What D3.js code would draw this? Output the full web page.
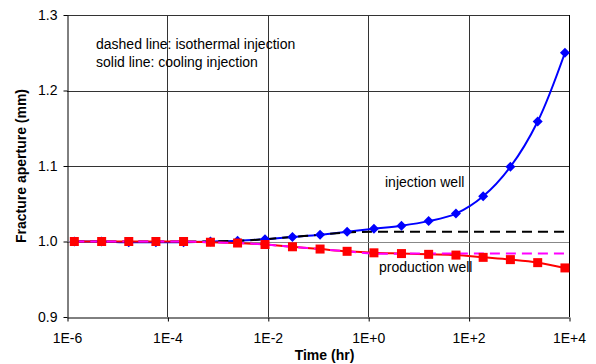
<!DOCTYPE html>
<html>
<head>
<meta charset="utf-8">
<script src="https://cdn.jsdelivr.net/npm/d3@7"></script>
<style>
  body { margin: 0; background: #fff; }
  svg text { font-family: Arial, "Liberation Sans", sans-serif; font-size: 14px; fill: #000; }
  .axis path, .axis line { stroke: #000; }
</style>
</head>
<body>
<figure id="chart" style="margin:0"></figure>
<script>
// time of each output step (hr)
const timeHr = [1.4e-6, 4.9e-6, 1.7e-5, 5.9e-5, 2.1e-4, 7.2e-4, 2.5e-3, 8.8e-3, 3.1e-2,
  0.11, 0.38, 1.3, 4.6, 16, 56, 195, 680, 2380, 8300];

// fracture aperture (mm)
const injCooling = [1.000, 1.000, 0.999, 0.999, 0.999, 1.000, 1.001, 1.003, 1.006,
  1.009, 1.013, 1.017, 1.021, 1.027, 1.037, 1.060, 1.099, 1.159, 1.250];
const prodCooling = [1.000, 1.000, 1.000, 1.000, 1.000, 0.999, 0.998, 0.996, 0.993,
  0.990, 0.987, 0.985, 0.984, 0.983, 0.982, 0.979, 0.976, 0.972, 0.965];
const injIsothermal = [1.000, 1.000, 1.000, 1.000, 1.000, 1.000, 1.001, 1.003, 1.006,
  1.009, 1.012, 1.013, 1.013, 1.013, 1.013, 1.013, 1.013, 1.013, 1.013];
const prodIsothermal = [1.000, 1.000, 1.000, 1.000, 1.000, 0.999, 0.998, 0.996, 0.993,
  0.990, 0.987, 0.984, 0.984, 0.984, 0.984, 0.984, 0.984, 0.984, 0.984];

const xTicks = [1e-6, 1e-4, 1e-2, 1e0, 1e2, 1e4];
const xTickLabels = ["1E-6", "1E-4", "1E-2", "1E+0", "1E+2", "1E+4"];
const yTicks = [0.9, 1.0, 1.1, 1.2, 1.3];

const width = 596, height = 364;
const margin = { top: 15, right: 27, bottom: 47, left: 67 };
const chartWidth = width - margin.left - margin.right;
const chartHeight = height - margin.top - margin.bottom;

const svg = d3.select("#chart")
  .append("svg")
  .attr("width", width)
  .attr("height", height);

const g = svg.append("g")
  .attr("transform", `translate(${margin.left},${margin.top})`);

// Create scales
const x = d3.scaleLog()
  .domain([1e-6, 1e4])
  .range([0, chartWidth]);

const y = d3.scaleLinear()
  .domain([0.9, 1.3])
  .range([chartHeight, 0]);

// grid lines
g.selectAll(".vgrid")
  .data(xTicks.slice(1, -1))
  .enter()
  .append("line")
  .attr("x1", d => Math.round(x(d)) + 0.5)
  .attr("x2", d => Math.round(x(d)) + 0.5)
  .attr("y1", 0)
  .attr("y2", chartHeight)
  .attr("stroke", "#333");

g.selectAll(".hgrid")
  .data(yTicks.slice(1))
  .enter()
  .append("line")
  .attr("x1", 0)
  .attr("x2", chartWidth)
  .attr("y1", d => Math.round(y(d)) + 0.5)
  .attr("y2", d => Math.round(y(d)) + 0.5)
  .attr("stroke", d => d === 1.0 ? "#888" : "#333");

// right border
g.append("line")
  .attr("x1", chartWidth + 0.5).attr("x2", chartWidth + 0.5)
  .attr("y1", 0).attr("y2", chartHeight)
  .attr("stroke", "#000");

// axes
const xAxis = g.append("g")
  .attr("class", "axis")
  .attr("transform", `translate(0,${chartHeight + 0.5})`)
  .call(d3.axisBottom(x)
    .tickValues(xTicks)
    .tickFormat((d, i) => xTickLabels[i])
    .tickSize(4)
    .tickSizeOuter(0)
    .tickPadding(12));
xAxis.selectAll("text").attr("font-size", 14).attr("font-family", null);

const yAxis = g.append("g")
  .attr("class", "axis")
  .attr("transform", "translate(0.5,0)")
  .call(d3.axisLeft(y)
    .tickValues(yTicks)
    .tickFormat(d3.format(".1f"))
    .tickSize(4)
    .tickSizeOuter(0)
    .tickPadding(6));
yAxis.selectAll("text").attr("font-size", 14).attr("font-family", null);
xAxis.selectAll("line").attr("transform", "translate(0.5,0)");

// lines
const line = d3.line()
  .x((d, i) => x(timeHr[i]))
  .y(d => y(d))
  .curve(d3.curveCatmullRom.alpha(0.5));

g.append("path")
  .datum(injCooling)
  .attr("d", line)
  .attr("fill", "none")
  .attr("stroke", "#0000ff")
  .attr("stroke-width", 2);

g.append("path")
  .datum(injIsothermal)
  .attr("d", line)
  .attr("fill", "none")
  .attr("stroke", "#000")
  .attr("stroke-width", 2)
  .attr("stroke-dasharray", "10,6");

g.append("path")
  .datum(prodCooling)
  .attr("d", line)
  .attr("fill", "none")
  .attr("stroke", "#ff0000")
  .attr("stroke-width", 2);

g.append("path")
  .datum(prodIsothermal)
  .attr("d", line)
  .attr("fill", "none")
  .attr("stroke", "#ff00ff")
  .attr("stroke-width", 2)
  .attr("stroke-dasharray", "10,6");

// markers
g.selectAll(".diamond")
  .data(injCooling)
  .enter()
  .append("path")
  .attr("class", "diamond")
  .attr("d", "M0,-5L5,0L0,5L-5,0Z")
  .attr("transform", (d, i) => `translate(${x(timeHr[i])},${y(d)})`)
  .attr("fill", "#0000ff");

g.selectAll(".square")
  .data(prodCooling)
  .enter()
  .append("rect")
  .attr("class", "square")
  .attr("x", (d, i) => x(timeHr[i]) - 4.5)
  .attr("y", d => y(d) - 4.5)
  .attr("width", 9)
  .attr("height", 9)
  .attr("fill", "#ff0000");

// annotations
svg.append("text").attr("x", 96).attr("y", 49).text("dashed line: isothermal injection");
svg.append("text").attr("x", 96).attr("y", 67).text("solid line: cooling injection");
svg.append("text").attr("x", 385).attr("y", 187).text("injection well");
svg.append("text").attr("x", 379).attr("y", 272).text("production well");

// axis titles
svg.append("text")
  .attr("x", 324.5)
  .attr("y", 360)
  .attr("text-anchor", "middle")
  .attr("font-weight", "bold")
  .text("Time (hr)");

svg.append("text")
  .attr("transform", "rotate(-90)")
  .attr("x", -(margin.top + chartHeight / 2))
  .attr("y", 25.5)
  .attr("text-anchor", "middle")
  .attr("font-weight", "bold")
  .text("Fracture aperture (mm)");
</script>
</body>
</html>
